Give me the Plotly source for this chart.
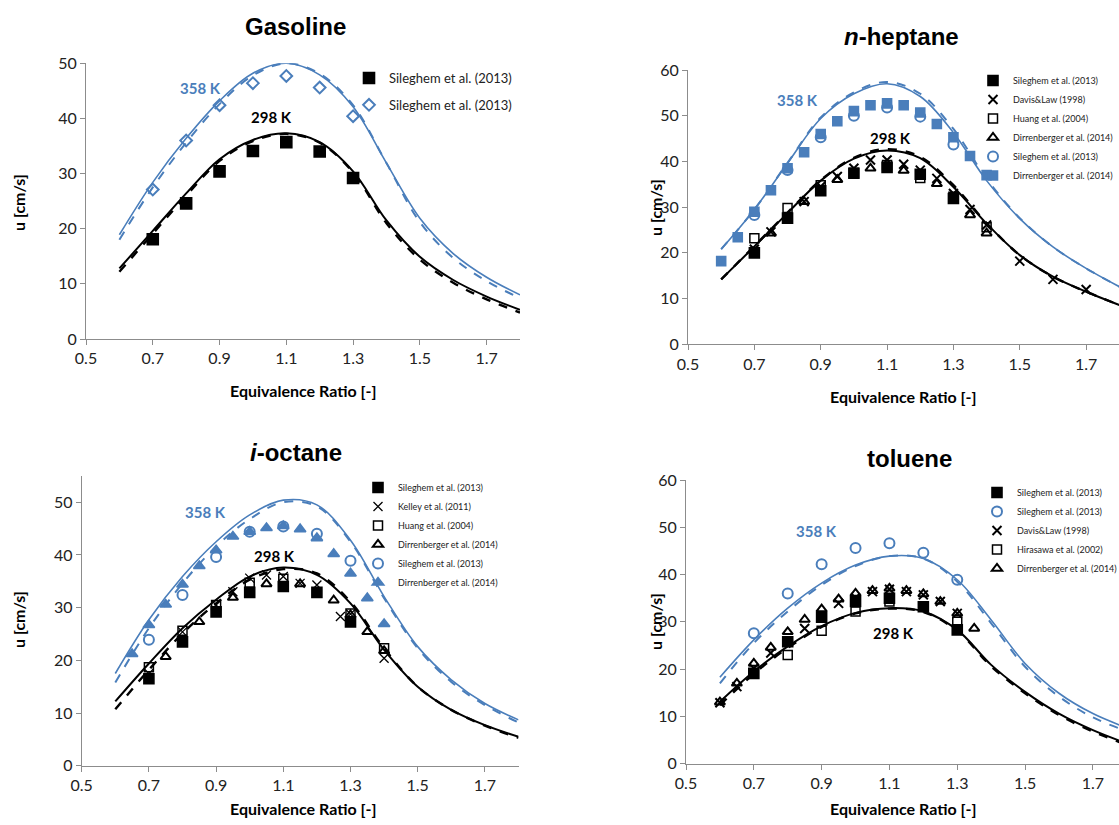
import plotly.graph_objects as go

W, H = 1119, 825

# ---------------- model curves (phi grid) ----------------
phi_model = [0.6, 0.7, 0.8, 0.9, 1.0, 1.1, 1.2, 1.3, 1.4, 1.5, 1.6, 1.7, 1.8]

gas_298_solid = [12.8, 19.6, 26.4, 32.6, 36.1, 37.3, 35.7, 30.4, 21.5, 14.9, 10.7, 7.7, 5.3]
gas_298_dash = [12.2, 19.1, 26.0, 32.3, 35.9, 37.2, 35.6, 30.2, 21.0, 14.4, 10.2, 7.2, 4.8]
gas_358_solid = [18.9, 28.4, 36.4, 43.2, 48.2, 50.0, 47.9, 42.1, 31.9, 21.9, 15.5, 11.2, 8.0]
gas_358_dash = [18.0, 27.5, 35.6, 42.6, 47.8, 50.0, 48.1, 42.4, 31.9, 21.2, 14.7, 10.5, 7.4]

hep_298_solid = [14.2, 21.4, 28.7, 35.8, 40.6, 42.4, 40.7, 34.4, 26.4, 19.5, 14.8, 11.5, 8.6]
hep_298_dash = [14.2, 21.5, 28.8, 35.9, 40.8, 42.7, 41.0, 34.8, 26.5, 19.5, 14.8, 11.5, 8.6]
hep_358_solid = [20.8, 29.5, 39.6, 49.4, 54.8, 57.0, 54.2, 46.3, 35.8, 27.5, 21.3, 16.6, 12.6]
hep_358_dash = [20.8, 29.5, 39.7, 49.6, 55.1, 57.4, 54.8, 47.1, 36.2, 27.6, 21.3, 16.6, 12.6]

oct_298_solid = [12.2, 19.4, 26.1, 31.5, 35.9, 37.6, 36.2, 30.8, 22.0, 15.0, 10.6, 7.7, 5.5]
oct_298_dash = [10.7, 18.2, 25.1, 30.8, 35.3, 37.3, 36.5, 31.1, 22.3, 15.0, 10.6, 7.6, 5.3]
oct_358_solid = [17.5, 27.7, 35.9, 42.5, 47.6, 50.4, 49.5, 42.8, 32.1, 22.6, 16.3, 11.8, 8.7]
oct_358_dash = [15.8, 26.1, 34.6, 41.6, 46.8, 50.0, 49.2, 42.5, 31.8, 22.3, 15.9, 11.5, 8.2]

tol_298_solid = [13.1, 19.5, 24.8, 29.1, 31.9, 32.9, 32.2, 28.3, 20.9, 15.2, 10.6, 7.1, 4.3]
tol_298_dash = [12.4, 19.0, 24.5, 28.9, 31.8, 32.8, 32.1, 28.1, 20.6, 14.9, 10.3, 6.8, 4.0]
tol_358_solid = [18.3, 26.2, 32.9, 38.2, 42.0, 43.9, 43.4, 38.9, 30.4, 21.2, 14.9, 10.6, 7.6]
tol_358_dash = [17.0, 25.5, 32.2, 37.8, 41.8, 43.9, 43.4, 38.5, 29.7, 20.5, 14.2, 9.8, 6.9]

# ---------------- experimental data ----------------
# Gasoline
gas_sil298_phi = [0.7, 0.8, 0.9, 1.0, 1.1, 1.2, 1.3]
gas_sil298_u = [18.1, 24.6, 30.4, 34.1, 35.7, 34.0, 29.2]
gas_sil358_phi = [0.7, 0.8, 0.9, 1.0, 1.1, 1.2, 1.3]
gas_sil358_u = [27.1, 36.0, 42.4, 46.4, 47.7, 45.6, 40.4]

# n-heptane
hep_sil298_phi = [0.7, 0.8, 0.9, 1.0, 1.1, 1.2, 1.3]
hep_sil298_u = [20.0, 27.6, 33.6, 37.4, 38.7, 37.2, 31.9]
hep_davis_phi = [0.7, 0.75, 0.85, 0.9, 0.95, 1.0, 1.05, 1.1, 1.15, 1.2, 1.25, 1.3, 1.35, 1.4, 1.5, 1.6, 1.7]
hep_davis_u = [20.8, 24.6, 31.2, 34.5, 36.7, 38.5, 40.3, 40.3, 39.4, 38.1, 36.3, 33.0, 29.5, 26.1, 18.2, 14.2, 12.0]
hep_huang_phi = [0.7, 0.8, 0.9, 1.0, 1.1, 1.2, 1.3, 1.4]
hep_huang_u = [23.2, 29.8, 34.8, 37.5, 39.2, 36.4, 32.3, 25.6]
hep_dirr298_phi = [0.75, 0.85, 0.95, 1.05, 1.15, 1.25, 1.35, 1.4]
hep_dirr298_u = [24.3, 31.2, 36.0, 38.5, 38.0, 35.1, 28.3, 24.3]
hep_sil358_phi = [0.7, 0.8, 0.9, 1.0, 1.1, 1.2, 1.3]
hep_sil358_u = [28.3, 38.1, 45.3, 50.0, 51.8, 49.8, 43.7]
hep_dirr358_phi = [0.6, 0.65, 0.7, 0.75, 0.8, 0.85, 0.9, 0.95, 1.0, 1.05, 1.1, 1.15, 1.2, 1.25, 1.3, 1.35, 1.4]
hep_dirr358_u = [18.2, 23.4, 29.0, 33.7, 38.5, 42.0, 46.0, 48.8, 51.0, 52.3, 52.7, 52.3, 50.7, 48.2, 45.3, 41.2, 37.0]

# i-octane
oct_sil298_phi = [0.7, 0.8, 0.9, 1.0, 1.1, 1.2, 1.3]
oct_sil298_u = [16.5, 23.5, 29.2, 32.9, 34.0, 32.9, 27.3]
oct_kelley_phi = [0.7, 0.8, 0.9, 0.95, 1.0, 1.05, 1.1, 1.15, 1.2, 1.27, 1.3, 1.4]
oct_kelley_u = [17.5, 25.4, 30.5, 33.0, 35.6, 36.2, 35.9, 34.6, 34.3, 28.3, 28.8, 20.4]
oct_huang_phi = [0.7, 0.8, 0.9, 1.0, 1.1, 1.3, 1.4]
oct_huang_u = [18.7, 25.6, 30.5, 34.7, 35.5, 28.9, 22.3]
oct_dirr298_phi = [0.75, 0.85, 0.95, 1.05, 1.15, 1.25, 1.3, 1.35, 1.4]
oct_dirr298_u = [20.7, 27.3, 31.9, 34.5, 34.5, 31.4, 28.6, 25.4, 21.8]
oct_sil358_phi = [0.7, 0.8, 0.9, 1.0, 1.1, 1.2, 1.3]
oct_sil358_u = [23.9, 32.4, 39.6, 44.4, 45.4, 44.0, 38.9]
oct_dirr358_phi = [0.65, 0.7, 0.75, 0.8, 0.85, 0.9, 0.95, 1.0, 1.05, 1.1, 1.15, 1.2, 1.25, 1.3, 1.35, 1.4]
oct_dirr358_u = [21.2, 26.7, 30.6, 34.4, 37.9, 40.9, 43.5, 44.4, 45.1, 45.5, 44.9, 43.2, 40.2, 36.5, 31.8, 26.9]

# toluene
tol_sil298_phi = [0.7, 0.8, 0.9, 1.0, 1.1, 1.2, 1.3]
tol_sil298_u = [19.1, 25.8, 31.0, 34.3, 35.0, 33.2, 28.3]
tol_sil358_phi = [0.7, 0.8, 0.9, 1.0, 1.1, 1.2, 1.3]
tol_sil358_u = [27.6, 36.0, 42.2, 45.6, 46.6, 44.6, 38.9]
tol_davis_phi = [0.6, 0.65, 0.7, 0.75, 0.85, 0.95, 1.0, 1.05, 1.1, 1.15, 1.2, 1.25, 1.3]
tol_davis_u = [12.9, 16.3, 20.2, 23.4, 28.6, 33.9, 35.1, 36.4, 36.9, 36.4, 35.7, 34.3, 31.8]
tol_hira_phi = [0.8, 0.9, 1.0, 1.1, 1.3]
tol_hira_u = [23.0, 28.1, 32.2, 34.3, 30.0]
tol_dirr_phi = [0.6, 0.65, 0.7, 0.75, 0.8, 0.85, 0.9, 0.95, 1.0, 1.05, 1.1, 1.15, 1.2, 1.25, 1.3, 1.35]
tol_dirr_u = [13.0, 17.0, 21.2, 24.6, 27.9, 30.5, 32.7, 34.8, 36.0, 36.6, 37.1, 36.6, 35.9, 34.3, 31.8, 28.6]

x_tickvals = [0.5, 0.7, 0.9, 1.1, 1.3, 1.5, 1.7]
x_ticktext = ["0.5", "0.7", "0.9", "1.1", "1.3", "1.5", "1.7"]

BLACK = "#000000"
BLUE = "#4a7ebb"

fig = go.Figure()


def px_x(p):
    return p / W


def px_y(p):
    return 1 - p / H


def add_curves(xa, ya, s298, d298, s358, d358):
    for ys, col, dash, wdt in [(s358, BLUE, "solid", 1.6), (d358, BLUE, "dash", 2.0),
                               (s298, BLACK, "solid", 2.0), (d298, BLACK, "dash", 2.4)]:
        fig.add_trace(go.Scatter(x=phi_model, y=ys, mode="lines", xaxis=xa, yaxis=ya,
                                 line=dict(color=col, dash=dash, width=wdt, shape="spline", smoothing=1.0),
                                 showlegend=False, hoverinfo="skip"))


_count = [0]


def add_pts(xa, ya, xs, ys, name, symbol, color, size, legend, lw=1.6, group=False):
    _count[0] += 1
    fig.add_trace(go.Scatter(x=xs, y=ys, mode="markers", xaxis=xa, yaxis=ya, name=name,
                             legend=legend, legendgroup=("g%d" % _count[0]) if group else None,
                             marker=dict(symbol=symbol, size=size, color=color,
                                         line=dict(color=color, width=lw))))


# Gasoline (x/y)
add_curves("x", "y", gas_298_solid, gas_298_dash, gas_358_solid, gas_358_dash)
add_pts("x", "y", gas_sil298_phi, gas_sil298_u, "Sileghem et al. (2013)", "square", BLACK, 11, "legend", group=True)
add_pts("x", "y", gas_sil358_phi, gas_sil358_u, "Sileghem et al. (2013)", "diamond-open", BLUE, 9, "legend", 2, group=True)

# n-heptane (x2/y2)
add_curves("x2", "y2", hep_298_solid, hep_298_dash, hep_358_solid, hep_358_dash)
add_pts("x2", "y2", hep_sil298_phi, hep_sil298_u, "Sileghem et al. (2013)", "square", BLACK, 10, "legend2")
add_pts("x2", "y2", hep_davis_phi, hep_davis_u, "Davis&Law (1998)", "x-thin-open", BLACK, 9, "legend2", 2)
add_pts("x2", "y2", hep_huang_phi, hep_huang_u, "Huang et al. (2004)", "square-open", BLACK, 9, "legend2", 1.5)
add_pts("x2", "y2", hep_dirr298_phi, hep_dirr298_u, "Dirrenberger et al. (2014)", "triangle-up-open", BLACK, 9, "legend2", 2)
add_pts("x2", "y2", hep_sil358_phi, hep_sil358_u, "Sileghem et al. (2013)", "circle-open", BLUE, 10, "legend2", 2)
add_pts("x2", "y2", hep_dirr358_phi, hep_dirr358_u, "Dirrenberger et al. (2014)", "square", BLUE, 9, "legend2")

# i-octane (x3/y3)
add_curves("x3", "y3", oct_298_solid, oct_298_dash, oct_358_solid, oct_358_dash)
add_pts("x3", "y3", oct_sil298_phi, oct_sil298_u, "Sileghem et al. (2013)", "square", BLACK, 10, "legend3")
add_pts("x3", "y3", oct_kelley_phi, oct_kelley_u, "Kelley et al. (2011)", "x-thin-open", BLACK, 9, "legend3", 1.3)
add_pts("x3", "y3", oct_huang_phi, oct_huang_u, "Huang et al. (2004)", "square-open", BLACK, 9, "legend3", 1.5)
add_pts("x3", "y3", oct_dirr298_phi, oct_dirr298_u, "Dirrenberger et al. (2014)", "triangle-up-open", BLACK, 9, "legend3", 2)
add_pts("x3", "y3", oct_sil358_phi, oct_sil358_u, "Sileghem et al. (2013)", "circle-open", BLUE, 10, "legend3", 2)
add_pts("x3", "y3", oct_dirr358_phi, oct_dirr358_u, "Dirrenberger et al. (2014)", "triangle-up", BLUE, 10, "legend3")

# toluene (x4/y4)
add_curves("x4", "y4", tol_298_solid, tol_298_dash, tol_358_solid, tol_358_dash)
add_pts("x4", "y4", tol_sil298_phi, tol_sil298_u, "Sileghem et al. (2013)", "square", BLACK, 10, "legend4")
add_pts("x4", "y4", tol_sil358_phi, tol_sil358_u, "Sileghem et al. (2013)", "circle-open", BLUE, 10, "legend4", 2)
add_pts("x4", "y4", tol_davis_phi, tol_davis_u, "Davis&Law (1998)", "x-thin-open", BLACK, 9, "legend4", 2)
add_pts("x4", "y4", tol_hira_phi, tol_hira_u, "Hirasawa et al. (2002)", "square-open", BLACK, 9, "legend4", 1.5)
add_pts("x4", "y4", tol_dirr_phi, tol_dirr_u, "Dirrenberger et al. (2014)", "triangle-up-open", BLACK, 9, "legend4", 2)

TICKFONT = dict(family="Lato, Carlito, 'Liberation Sans', sans-serif", size=16, color="#222222")
AXCOL = "#8c8c8c"


def xaxis(dom, rng, anchor):
    return dict(domain=dom, range=rng, anchor=anchor, tickvals=x_tickvals, ticktext=x_ticktext,
                showgrid=False, zeroline=False, showline=True, linecolor=AXCOL, linewidth=1,
                ticks="outside", ticklen=5, tickcolor=AXCOL, tickfont=TICKFONT, automargin=False)


def yaxis(dom, rng, anchor, dtick=10):
    return dict(domain=dom, range=rng, anchor=anchor, dtick=dtick, tick0=0,
                showgrid=False, zeroline=False, showline=True, linecolor=AXCOL, linewidth=1,
                ticks="outside", ticklen=5, tickcolor=AXCOL, tickfont=TICKFONT, automargin=False)


layout = dict(
    width=W, height=H, margin=dict(l=0, r=0, t=0, b=0, autoexpand=False),
    paper_bgcolor="white", plot_bgcolor="white",
    xaxis=xaxis([px_x(86), px_x(520)], [0.5, 1.8], "y"),
    yaxis=yaxis([px_y(339), px_y(63.3)], [0, 50], "x"),
    xaxis2=xaxis([px_x(688), 1.0], [0.5, 1.799], "y2"),
    yaxis2=yaxis([px_y(344.3), px_y(70)], [0, 60], "x2"),
    xaxis3=xaxis([px_x(81.7), px_x(518.5)], [0.5, 1.8], "y3"),
    yaxis3=yaxis([px_y(765.7), px_y(475.9)], [0, 55], "x3"),
    xaxis4=xaxis([px_x(686), 1.0], [0.5, 1.777], "y4"),
    yaxis4=yaxis([px_y(763.7), px_y(480)], [0, 60], "x4"),
)

LEGFONT_FAM = "Lato, Carlito, 'Liberation Sans', sans-serif"


def leg(x, y, size, gap):
    return dict(x=px_x(x), y=px_y(y), xref="container", yref="container",
                xanchor="left", yanchor="top", bgcolor="rgba(0,0,0,0)",
                font=dict(family=LEGFONT_FAM, size=size, color="#222222"),
                tracegroupgap=gap, itemwidth=30)


layout["legend"] = leg(349, 63, 13, 7)
layout["legend2"] = leg(973, 66, 9, 0)
layout["legend3"] = leg(358, 473, 9, 0)
layout["legend4"] = leg(977, 478, 9, 0)
fig.update_layout(**layout)

TITLEFONT = "'Liberation Sans', Arial, sans-serif"
LABFONT = "Lato, Carlito, 'Liberation Sans', sans-serif"
ann = []


def text(x, y, t, size, color=BLACK, fam=LABFONT, angle=0):
    ann.append(dict(x=px_x(x), y=px_y(y), xref="paper", yref="paper", text=t, showarrow=False,
                    xanchor="center", yanchor="middle", textangle=angle,
                    font=dict(family=fam, size=size, color=color)))


text(296, 27, "<b>Gasoline</b>", 24, fam=TITLEFONT)
text(902, 37, "<b><i>n</i>-heptane</b>", 24, fam=TITLEFONT)
text(296, 452, "<b><i>i</i>-octane</b>", 24, fam=TITLEFONT)
text(909, 458, "<b>toluene</b>", 24, fam=TITLEFONT)

for xc, yc in [(303, 391), (903, 396), (303, 808), (903, 808)]:
    text(xc, yc, "<b>Equivalence Ratio [-]</b>", 16)
for xc, yc in [(18, 203), (655, 208), (18, 620), (655, 622)]:
    text(xc, yc, "<b>u [cm/s]</b>", 16, angle=-90)

text(200, 88, "<b>358 K</b>", 15, BLUE)
text(271, 117, "<b>298 K</b>", 15)
text(797, 100, "<b>358 K</b>", 15, BLUE)
text(890, 138, "<b>298 K</b>", 15)
text(205, 512, "<b>358 K</b>", 15, BLUE)
text(274, 556, "<b>298 K</b>", 15)
text(816, 531, "<b>358 K</b>", 15, BLUE)
text(893, 633, "<b>298 K</b>", 15)

fig.update_layout(annotations=ann)
fig.write_html("out.html")
